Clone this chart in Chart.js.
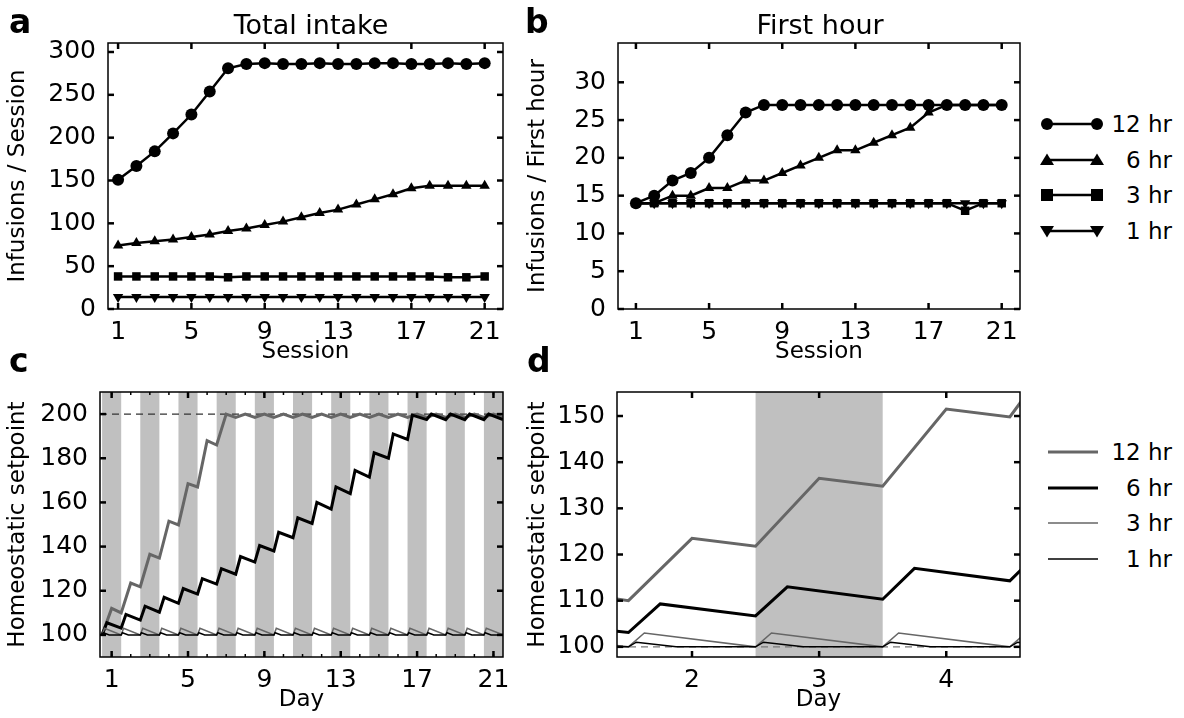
<!DOCTYPE html>
<html>
<head>
<meta charset="utf-8">
<script src="https://cdn.jsdelivr.net/npm/chart.js@4"></script>
<style>
  body { margin: 0; background: #fff; font-family: "DejaVu Sans", sans-serif; }
  #wrap { position: relative; width: 1184px; height: 718px; }
  canvas { position: absolute; }
  .lbl { position: absolute; font-weight: bold; font-size: 33px; line-height: 1; }
  .ttl { position: absolute; font-size: 27px; line-height: 1; transform: translateX(-50%); }
  .leg { position: absolute; font-size: 23px; }
  .leg div { position: relative; height: 35.5px; }
  .leg svg { position: absolute; left: 0; top: 0; }
  .leg span { position: absolute; right: 0; top: -1px; line-height: 24px; white-space: pre; }
</style>
</head>
<body>
<div id="wrap">
  <canvas id="ca" width="520" height="370" style="left:0;top:0"></canvas>
  <canvas id="cb" width="520" height="370" style="left:520px;top:0"></canvas>
  <canvas id="cc" width="520" height="348" style="left:0;top:370px"></canvas>
  <canvas id="cd" width="520" height="348" style="left:520px;top:370px"></canvas>
  <div class="lbl" style="left:9px;top:5px">a</div>
  <div class="lbl" style="left:525px;top:5px">b</div>
  <div class="lbl" style="left:9px;top:344px">c</div>
  <div class="lbl" style="left:527px;top:344px">d</div>
  <div class="ttl" style="left:311px;top:11px">Total intake</div>
  <div class="ttl" style="left:820px;top:11px">First hour</div>
  <div class="leg" id="leg1" style="left:1040px;top:113px;width:132px"></div>
  <div class="leg" id="leg2" style="left:1046px;top:441px;width:126px"></div>
</div>
<script>
const sessions = [1,2,3,4,5,6,7,8,9,10,11,12,13,14,15,16,17,18,19,20,21];
const sessionTicks = [1,5,9,13,17,21];
const seriesNames = ['12 hr', ' 6 hr', ' 3 hr', ' 1 hr'];

// panel a: infusions per session
const total12 = [151,167,184,205,227,254,281,286,287,286,286,287,286,286,287,287,286,286,287,286,287];
const total6  = [74,77,79,81,84,87,91,94,98,102,107,112,116,122,128,134,141,144,144,144,144];
const total3  = [38,38,38,38,38,38,37,38,38,38,38,38,38,38,38,38,38,38,37,37,38];
const total1  = [14,14,14,14,14,14,14,14,14,14,14,14,14,14,14,14,14,14,14,14,14];
const totalTicks = [0,50,100,150,200,250,300];

// panel b: infusions in first hour
const first12 = [14,15,17,18,20,23,26,27,27,27,27,27,27,27,27,27,27,27,27,27,27];
const first6  = [14,14,15,15,16,16,17,17,18,19,20,21,21,22,23,24,26,27,27,27,27];
const first3  = [14,14,14,14,14,14,14,14,14,14,14,14,14,14,14,14,14,14,13,14,14];
const first1  = [14,14,14,14,14,14,14,14,14,14,14,14,14,14,14,14,14,14,14,14,14];
const firstTicks = [0,5,10,15,20,25,30];

// panels c, d: homeostatic setpoint, peak (end of intake) and trough (end of day) per day
const days = [1,2,3,4,5,6,7,8,9,10,11,12,13,14,15,16,17,18,19,20,21];
const peak12   = [112,123.5,136.5,151.5,168.5,188,200,200,200,200,200,200,200,200,200,200,200,200,200,200,200];
const trough12 = [110,121.8,134.8,149.8,167,186,198.5,198.5,198.5,198.5,198.5,198.5,198.5,198.5,198.5,198.5,198.5,198.5,198.5,198.5,198.5];
const peak6    = [105.5,109.3,113,117,121,125.5,130,135.5,140.5,146.5,153,160,167,174.5,182.5,191,199.5,200,200,200,200];
const trough6  = [103.1,106.7,110.3,114.3,118.5,123,127.5,133,138,144,150.5,157,164,171.5,180,188.5,197.5,197.5,197.5,197.5,197.5];
const peak3 = 103, base3 = 100;
const peak1 = 101, base1 = 100;
const dayTicks = [1,5,9,13,17,21];
const setTicksC = [100,120,140,160,180,200];
const zoomDays = [2,3,4];
const setTicksD = [100,110,120,130,140,150];
const darkDaysC = [1,3,5,7,9,11,13,15,17,19,21];
const darkDaysD = [3];

// session timing inside a day: start, peak of 12/6/3/1 hr, 1 hr back to base, end
const tStart = -0.5, tPeak12 = 0, tPeak6 = -0.25, tPeak3 = -0.375, tPeak1 = -0.4375, tBase1 = -0.125, tEnd = 0.5;

function sawtooth(peaks, troughs, tPeak) {
  const pts = [{x: days[0] + tStart, y: 100}];
  days.forEach((d, i) => {
    pts.push({x: d + tPeak, y: peaks[i]});
    pts.push({x: d + tEnd, y: troughs[i]});
  });
  return pts;
}
function smallTooth(peak, base, tPeak, tBase) {
  const pts = [];
  days.forEach(d => {
    pts.push({x: d + tStart, y: base});
    pts.push({x: d + tPeak, y: peak});
    if (tBase !== undefined) pts.push({x: d + tBase, y: base});
    pts.push({x: d + tEnd, y: base});
  });
  return pts;
}

const FONT = 'DejaVu Sans';
Chart.defaults.font.family = FONT;
Chart.defaults.color = '#000';

const frame = {
  id: 'frame',
  beforeDatasetsDraw(chart, args, o) {
    const {ctx, chartArea: a, scales: {x, y}} = chart;
    ctx.save();
    ctx.beginPath(); ctx.rect(a.left, a.top, a.width, a.height); ctx.clip();
    ctx.fillStyle = '#c0c0c0';
    (o.bands || []).forEach(d => {
      const l = x.getPixelForValue(d - 0.5), r = x.getPixelForValue(d + 0.5);
      ctx.fillRect(l, a.top, r - l, a.height);
    });
    if (o.refLine !== undefined) {
      const py = y.getPixelForValue(o.refLine);
      ctx.setLineDash([7, 5]); ctx.lineWidth = 1.2; ctx.strokeStyle = o.refColor || '#000';
      ctx.beginPath(); ctx.moveTo(a.left, py); ctx.lineTo(a.right, py); ctx.stroke();
    }
    ctx.restore();
  },
  afterDatasetsDraw(chart, args, o) {
    const {ctx, chartArea: a, scales: {x, y}} = chart;
    ctx.save();
    ctx.strokeStyle = '#000';
    const seg = (x1, y1, x2, y2) => { ctx.beginPath(); ctx.moveTo(x1, y1); ctx.lineTo(x2, y2); ctx.stroke(); };
    ctx.lineWidth = 1.5;
    (o.minor || []).forEach(v => {
      const px = x.getPixelForValue(v);
      seg(px, a.bottom, px, a.bottom - 3); seg(px, a.top, px, a.top + 3);
    });
    ctx.lineWidth = 2.5;
    x.ticks.forEach(t => {
      const px = x.getPixelForValue(t.value);
      seg(px, a.bottom, px, a.bottom - 6); seg(px, a.top, px, a.top + 6);
    });
    y.ticks.forEach(t => {
      const py = y.getPixelForValue(t.value);
      seg(a.left, py, a.left + 6, py); seg(a.right, py, a.right - 6, py);
    });
    ctx.lineWidth = 1.5;
    ctx.strokeRect(a.left, a.top, a.width, a.height);
    ctx.restore();
  }
};

function makeChart(id, datasets, cfg) {
  new Chart(document.getElementById(id), {
    type: 'line',
    data: { datasets },
    options: {
      responsive: false, animation: false, devicePixelRatio: 1,
      layout: { padding: { top: cfg.top, right: cfg.right, left: 0, bottom: 0 } },
      plugins: { legend: { display: false }, tooltip: { enabled: false }, frame: cfg.frame || {} },
      scales: {
        x: {
          type: 'linear', min: cfg.xMin, max: cfg.xMax,
          grid: { display: false }, border: { display: false },
          afterBuildTicks: s => { s.ticks = cfg.xTicks.map(v => ({ value: v })); },
          afterFit: s => { s.height = cfg.xH; },
          ticks: { padding: 0, font: { size: 25 }, color: '#000' },
          title: { display: true, text: cfg.xTitle, font: { size: 23 }, padding: { top: -3 }, color: '#000' }
        },
        y: {
          type: 'linear', min: cfg.yMin, max: cfg.yMax,
          grid: { display: false }, border: { display: false },
          afterBuildTicks: s => { s.ticks = cfg.yTicks.map(v => ({ value: v })); },
          afterFit: s => { s.width = cfg.yW; },
          ticks: { padding: 4, font: { size: 25 }, color: '#000' },
          title: { display: true, text: cfg.yTitle, font: { size: 23 }, padding: { bottom: 0 }, color: '#000' }
        }
      }
    },
    plugins: [frame]
  });
}

const markers = [
  { pointStyle: 'circle', pointRotation: 0, pointRadius: 6 },
  { pointStyle: 'triangle', pointRotation: 0, pointRadius: 6 },
  { pointStyle: 'rect', pointRotation: 0, pointRadius: 6 },
  { pointStyle: 'triangle', pointRotation: 180, pointRadius: 6 }
];
function markerSets(lists) {
  return lists.map((vals, i) => Object.assign({
    label: seriesNames[i],
    data: sessions.map((s, j) => ({ x: s, y: vals[j] })),
    borderColor: '#000', backgroundColor: '#000', borderWidth: 2.5,
    pointBorderWidth: 0
  }, markers[i]));
}

makeChart('ca', markerSets([total12, total6, total3, total1]).reverse(), {
  top: 43, right: 17, yW: 108, xH: 61, xMin: 0.45, xMax: 22, yMin: 0, yMax: 310.5,
  xTicks: sessionTicks, yTicks: totalTicks, xTitle: 'Session', yTitle: 'Infusions / Session'
});
makeChart('cb', markerSets([first12, first6, first3, first1]).reverse(), {
  top: 43, right: 20, yW: 98, xH: 61, xMin: 0.02, xMax: 22, yMin: 0, yMax: 35.2,
  xTicks: sessionTicks, yTicks: firstTicks, xTitle: 'Session', yTitle: 'Infusions / First hour'
});

function setpointSets() {
  return [
    { label: '1 hr', data: smallTooth(peak1, base1, tPeak1, tBase1), borderColor: '#000', borderWidth: 1.5 },
    { label: '3 hr', data: smallTooth(peak3, base3, tPeak3), borderColor: '#666', borderWidth: 1.5 },
    { label: '6 hr', data: sawtooth(peak6, trough6, tPeak6), borderColor: '#000', borderWidth: 3 },
    { label: '12 hr', data: sawtooth(peak12, trough12, tPeak12), borderColor: '#666', borderWidth: 3 }
  ].map(d => Object.assign(d, { pointRadius: 0, tension: 0 }));
}
makeChart('cc', setpointSets(), {
  top: 22, right: 17, yW: 100, xH: 61, xMin: 0.39, xMax: 21.5, yMin: 90, yMax: 210,
  xTicks: dayTicks, yTicks: setTicksC, xTitle: 'Day', yTitle: 'Homeostatic setpoint',
  frame: { bands: darkDaysC, refLine: 200, refColor: '#333', minor: days }
});
makeChart('cd', setpointSets(), {
  top: 22, right: 20, yW: 97, xH: 61, xMin: 1.41, xMax: 4.58, yMin: 97.8, yMax: 155.2,
  xTicks: zoomDays, yTicks: setTicksD, xTitle: 'Day', yTitle: 'Homeostatic setpoint',
  frame: { bands: darkDaysD, refLine: 100, refColor: '#777' }
});

// legends
const legMarks = [
  '<circle cx="C" cy="11" r="6"/>',
  '<polygon points="C,4.5 C+7,16 C-7,16"/>',
  '<rect x="C-6" y="5" width="12" height="12"/>',
  '<polygon points="C,17.5 C+7,6 C-7,6"/>'
];
function markSvg(i, cx) {
  return legMarks[i].replace(/C([+-]\d+)?/g, (m, d) => String(cx + (d ? Number(d) : 0)));
}
document.getElementById('leg1').innerHTML = seriesNames.map((n, i) =>
  '<div><svg width="64" height="22" fill="#000"><line x1="7" y1="11" x2="57" y2="11" stroke="#000" stroke-width="2.5"/>' +
  markSvg(i, 7) + markSvg(i, 57) + '</svg><span>' + n + '</span></div>').join('');
const legLines = [['#666', 3], ['#000', 3], ['#666', 1.5], ['#000', 1.5]];
document.getElementById('leg2').innerHTML = seriesNames.map((n, i) =>
  '<div><svg width="54" height="22"><line x1="2" y1="11" x2="52" y2="11" stroke="' + legLines[i][0] +
  '" stroke-width="' + legLines[i][1] + '"/></svg><span>' + n + '</span></div>').join('');
</script>
</body>
</html>
